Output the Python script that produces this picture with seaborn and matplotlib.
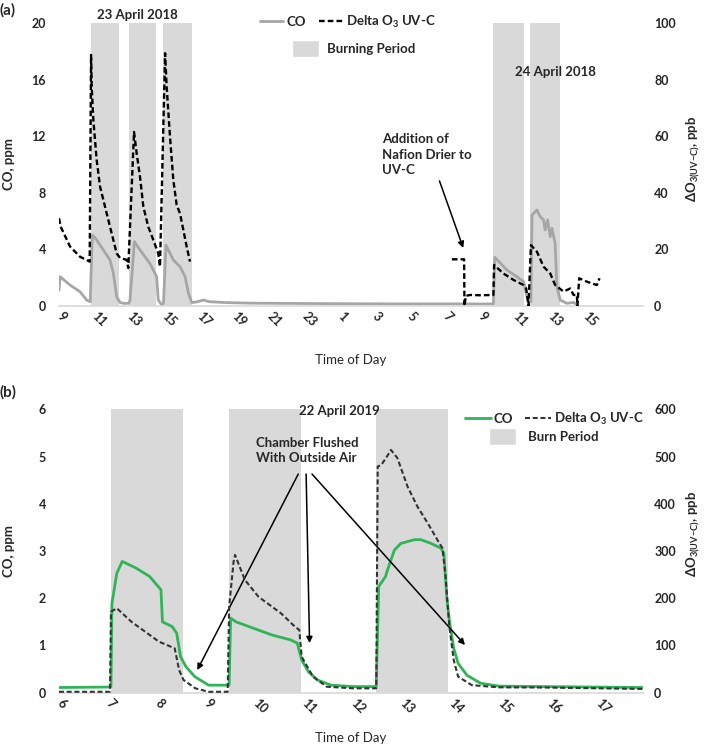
import matplotlib
matplotlib.use("Agg")
import matplotlib.pyplot as plt
import seaborn as sns
import pandas as pd
from matplotlib.lines import Line2D
from matplotlib.patches import Patch
from matplotlib.font_manager import FontProperties

# ---- panel (a): 23-24 April 2018, x = hours since midnight on 23 April ----
a_co_hours = [9.0, 9.06, 9.63, 10.20, 10.58, 10.78, 10.90, 11.00, 11.15, 11.53, 11.91, 12.10,
              12.29, 12.48, 12.67, 12.98, 13.05, 13.30, 13.43, 13.62, 14.19, 14.57, 14.66, 14.86,
              14.96, 15.10, 15.52, 15.90, 16.19, 16.38, 16.57, 16.9, 17.23, 17.6, 18.57, 20.0,
              24.0, 28.0, 31.0, 33.77, 33.85, 34.54, 35.11, 35.49, 35.64, 35.77, 35.91, 35.97,
              36.25, 36.44, 36.63, 36.72, 36.86, 37.01, 37.11, 37.29, 37.39, 37.58, 37.96, 38.34,
              38.53]
a_co_ppm = [1.1, 2.07, 1.48, 1.01, 0.42, 0.30, 5.0, 4.9, 4.66, 3.96, 3.25, 2.31,
            0.66, 0.25, 0.19, 0.19, 0.4, 4.55, 4.3, 3.96, 3.0, 2.07, 0.42, 0.07,
            0.2, 4.3, 3.25, 2.78, 2.07, 0.9, 0.24, 0.3, 0.42, 0.3, 0.24, 0.2,
            0.17, 0.15, 0.15, 0.14, 3.44, 2.54, 2.07, 1.72, 0.9, 0.3, 0.3, 6.43,
            6.78, 6.31, 6.08, 5.37, 6.08, 4.9, 5.49, 4.43, 1.36, 0.42, 0.19, 0.25,
            0.1]
a_o3_hours_day1 = [9.0, 9.1, 9.63, 10.20, 10.75, 10.83, 10.865, 10.96, 11.15, 11.34, 11.53,
                   11.91, 12.10, 12.29, 12.48, 12.86, 12.95, 13.28, 13.43, 13.62, 13.81, 14.09,
                   14.38, 14.66, 14.76, 15.05, 15.14, 15.33, 15.52, 15.71, 15.90, 16.09, 16.28,
                   16.47]
a_o3_ppb_day1 = [31, 28, 21, 17.4, 15.7, 88.7, 77.5, 65.7, 51.6, 42.2, 37.5,
                 28, 23.3, 18.6, 17, 16.3, 13.4, 61.5, 53.9, 45.7, 35.1, 28,
                 23.3, 18.6, 13.9, 89.3, 77.5, 59.8, 44.5, 35.7, 32.7, 26.9, 21,
                 15.7]
a_o3_hours_day2 = [31.40, 32.10, 32.12, 32.2, 32.45, 33.0, 33.77, 33.81, 34.34, 34.92, 35.49,
                   35.64, 35.77, 35.91, 36.25, 36.63, 37.01, 37.29, 37.77, 38.15, 38.34, 38.53,
                   38.56, 38.66, 39.10, 39.67, 39.82]
a_o3_ppb_day2 = [16.5, 16.5, 0, 3.6, 3.9, 3.8, 3.9, 14.5, 11.5, 9.2, 7.4,
                 6.2, 0, 21.5, 19.2, 13.9, 11.5, 7.4, 5.1, 6.2, 3.9, 3.9,
                 0, 9.8, 8.6, 7.4, 9.8]
a_burn_start = [10.81, 13.01, 14.92, 33.77, 35.87]
a_burn_end = [12.42, 14.55, 16.57, 35.54, 37.54]
a_tick_hours = list(range(9, 41, 2))
a_tick_labels = [str(h % 24) for h in a_tick_hours]

# ---- panel (b): 22 April 2019 ----
b_co_hours = [6.0, 7.0, 7.06, 7.08, 7.18, 7.29, 7.57, 7.85, 8.08, 8.11, 8.31, 8.40, 8.48,
              8.59, 8.77, 9.05, 9.42, 9.47, 9.50, 9.61, 9.98, 10.35, 10.72, 10.86, 10.95,
              11.09, 11.27, 11.55, 12.01, 12.47, 12.52, 12.66, 12.70, 12.84, 12.97, 13.25,
              13.38, 13.59, 13.79, 13.85, 13.91, 13.96, 14.05, 14.14, 14.32, 14.60, 14.97,
              15.90, 17.91]
b_co_ppm = [0.11, 0.12, 0.13, 1.89, 2.53, 2.78, 2.64, 2.46, 2.18, 1.50, 1.40, 1.26, 0.76,
            0.55, 0.34, 0.16, 0.16, 0.16, 1.58, 1.50, 1.36, 1.22, 1.12, 1.05, 0.69,
            0.44, 0.27, 0.16, 0.13, 0.13, 2.25, 2.46, 2.6, 3.02, 3.16, 3.24,
            3.24, 3.16, 3.06, 2.95, 2.0, 1.54, 0.94, 0.62, 0.37, 0.20, 0.14,
            0.13, 0.11]
b_o3_hours = [6.0, 7.04, 7.06, 7.18, 7.48, 7.76, 8.04, 8.36, 8.45, 8.54, 8.78, 9.05, 9.44,
              9.47, 9.56, 9.59, 9.79, 10.07, 10.53, 10.81, 10.90, 10.95, 11.18, 11.46, 12.01,
              12.47, 12.50, 12.57, 12.67, 12.77, 12.90, 13.11, 13.31, 13.52, 13.72, 13.82,
              13.88, 13.96, 14.05, 14.14, 14.42, 14.97, 15.90, 17.91]
b_o3_ppb = [2, 2, 171.6, 178.8, 150, 129, 108, 94, 48, 27, 9.3, 2, 2,
            182, 277, 291.7, 239, 203, 168, 140, 133, 76, 34, 12.7, 9.3,
            9.3, 479, 482, 497, 514, 497, 436, 394, 359, 323, 306,
            250, 140, 69, 34, 16, 11.4, 11, 8]
b_burn_start = [7.06, 9.47, 12.46]
b_burn_end = [8.53, 10.93, 13.94]
b_tick_hours = list(range(6, 18))
b_tick_labels = [str(h) for h in b_tick_hours]

sns.set_theme(style="white")
plt.rcParams['font.family'] = ['Lato', 'DejaVu Sans']
plt.rcParams['mathtext.default'] = 'regular'

FAMILY = ['Lato', 'DejaVu Sans']
BURN = '#d9d9d9'
DASH = (0, (2.4, 1.3))
bold = FontProperties(family=FAMILY, weight='bold', size=9.5)
O3_LABEL = 'ΔO$_{3(UV{-}C)}$, ppb'

fig = plt.figure(figsize=(7.08, 7.48), dpi=100)
ax_a = fig.add_axes([0.0833, 0.5909, 0.8249, 0.3784])
ax_b = fig.add_axes([0.0833, 0.0739, 0.8249, 0.3789])


def base_style(ax, ax2, xlim, ylim, yticks, ylim2, yticks2, xticks, xlabels):
    ax.set_xlim(*xlim)
    ax.set_ylim(*ylim)
    ax2.set_ylim(*ylim2)
    for s in ['top', 'left', 'right']:
        ax.spines[s].set_visible(False)
    ax.spines['bottom'].set_color('#d9d9d9')
    ax.spines['bottom'].set_linewidth(1.2)
    for s in ax2.spines.values():
        s.set_visible(False)
    ax.set_yticks(yticks, [str(t) for t in yticks], fontweight='bold', fontsize=9)
    ax2.set_yticks(yticks2, [str(t) for t in yticks2], fontweight='bold', fontsize=9)
    ax.set_xticks(xticks, xlabels, rotation=-45, ha='left', va='center',
                  rotation_mode='anchor', fontweight='bold', fontsize=9)
    ax.tick_params(axis='y', length=0, pad=9.5)
    ax.tick_params(axis='x', length=0, pad=6)
    ax2.tick_params(axis='y', length=0, pad=8)
    ax.grid(False)
    ax2.grid(False)
    ax.set_xlabel('')
    ax.set_ylabel('')
    ax2.set_ylabel('')


# ---------------- panel (a) ----------------
ax_a2 = ax_a.twinx()
for s, e in zip(a_burn_start, a_burn_end):
    ax_a.axvspan(s, e, color=BURN, lw=0, zorder=0)

df_a_co = pd.DataFrame({'hour': a_co_hours, 'co': a_co_ppm})
sns.lineplot(data=df_a_co, x='hour', y='co', ax=ax_a, color='#a6a6a6', lw=2,
             sort=False, estimator=None)
df_a_o3 = pd.concat([
    pd.DataFrame({'hour': a_o3_hours_day1, 'o3': a_o3_ppb_day1, 'day': 1}),
    pd.DataFrame({'hour': a_o3_hours_day2, 'o3': a_o3_ppb_day2, 'day': 2}),
])
sns.lineplot(data=df_a_o3, x='hour', y='o3', units='day', estimator=None, sort=False,
             ax=ax_a2, color='black', lw=1.7, linestyle=DASH)

base_style(ax_a, ax_a2, (9, 42.3), (0, 20), [0, 4, 8, 12, 16, 20], (0, 100),
           [0, 20, 40, 60, 80, 100], a_tick_hours, a_tick_labels)

ax_a.set_ylabel('CO, ppm', fontweight='bold', fontsize=9.5)
ax_a.yaxis.set_label_coords(-0.075, 0.5)
ax_a2.set_ylabel(O3_LABEL, fontweight='bold', fontsize=9.5, rotation=90)
ax_a2.yaxis.set_label_coords(1.072, 0.52)
ax_a.set_xlabel('Time of Day', fontsize=9.5)
ax_a.xaxis.set_label_coords(0.5, -0.17)

ax_a.text(13.45, 20.57, '23 April 2018', ha='center', va='center', fontweight='bold',
          fontsize=9.5, clip_on=False)
ax_a.text(37.29, 16.54, '24 April 2018', ha='center', va='center', fontweight='bold',
          fontsize=9.5)
ax_a.annotate('Addition of\nNafion Drier to\nUV-C', xy=(32.05, 4.1), xytext=(27.43, 12.2),
              ha='left', va='top', fontweight='bold', fontsize=9.5, linespacing=1.35,
              arrowprops=dict(arrowstyle='-|>', color='black', lw=1.1, shrinkA=1, shrinkB=0,
                              mutation_scale=9, relpos=(0.62, 0.0)))

leg1 = ax_a2.legend(handles=[Line2D([], [], color='#a6a6a6', lw=2, label='CO'),
                             Line2D([], [], color='black', lw=1.7, ls=DASH,
                                    label='Delta O$_3$ UV-C')],
                    ncol=2, loc='upper left', bbox_to_anchor=(253 / 708, 1 - 7 / 748),
                    bbox_transform=fig.transFigure, frameon=False, borderpad=0,
                    handlelength=1.8, handletextpad=0.25, columnspacing=1.0, prop=bold)
ax_a2.add_artist(leg1)
ax_a2.legend(handles=[Patch(facecolor=BURN, label='Burning Period')], loc='upper left',
             bbox_to_anchor=(285 / 708, 1 - 33 / 748), bbox_transform=fig.transFigure,
             frameon=False, borderpad=0, handlelength=2.1, handleheight=1.7,
             handletextpad=0.6, prop=bold)

# ---------------- panel (b) ----------------
ax_b2 = ax_b.twinx()
for s, e in zip(b_burn_start, b_burn_end):
    ax_b.axvspan(s, e, color=BURN, lw=0, zorder=0)

df_b_co = pd.DataFrame({'hour': b_co_hours, 'co': b_co_ppm})
sns.lineplot(data=df_b_co, x='hour', y='co', ax=ax_b, color='#2fb457', lw=2,
             sort=False, estimator=None)
df_b_o3 = pd.DataFrame({'hour': b_o3_hours, 'o3': b_o3_ppb})
sns.lineplot(data=df_b_o3, x='hour', y='o3', ax=ax_b2, color='#333333', lw=1.5,
             linestyle=DASH, sort=False, estimator=None)

base_style(ax_b, ax_b2, (6, 17.91), (0, 6), [0, 1, 2, 3, 4, 5, 6], (0, 600),
           [0, 100, 200, 300, 400, 500, 600], b_tick_hours, b_tick_labels)

ax_b.set_ylabel('CO, ppm', fontweight='bold', fontsize=9.5)
ax_b.yaxis.set_label_coords(-0.075, 0.5)
ax_b2.set_ylabel(O3_LABEL, fontweight='bold', fontsize=9.5, rotation=90)
ax_b2.yaxis.set_label_coords(1.072, 0.56)
ax_b.set_xlabel('Time of Day', fontsize=9.5)
ax_b.xaxis.set_label_coords(0.5, -0.138)

ax_b.text(10.90, 5.97, '22 April 2019', ha='left', va='center', fontweight='bold',
          fontsize=9.5)
ax_b.text(10.02, 5.42, 'Chamber Flushed\nWith Outside Air', ha='left', va='top',
          fontweight='bold', fontsize=9.5, linespacing=1.3)
arrow_starts = [(10.88, 4.63), (11.04, 4.63), (11.16, 4.63)]
arrow_ends = [(8.82, 0.48), (11.11, 1.05), (14.28, 1.01)]
for st, en in zip(arrow_starts, arrow_ends):
    ax_b.annotate('', xy=en, xytext=st,
                  arrowprops=dict(arrowstyle='-|>', color='black', lw=1.1, shrinkA=0,
                                  shrinkB=0, mutation_scale=9))

leg3 = ax_b2.legend(handles=[Line2D([], [], color='#2fb457', lw=2, label='CO'),
                             Line2D([], [], color='#333333', lw=1.5, ls=DASH,
                                    label='Delta O$_3$ UV-C')],
                    ncol=2, loc='upper left', bbox_to_anchor=(458 / 708, 1 - 404 / 748),
                    bbox_transform=fig.transFigure, frameon=False, borderpad=0,
                    handlelength=2.0, handletextpad=0.2, columnspacing=0.9, prop=bold)
ax_b2.add_artist(leg3)
ax_b2.legend(handles=[Patch(facecolor=BURN, label='Burn Period')], loc='upper left',
             bbox_to_anchor=(482 / 708, 1 - 421 / 748), bbox_transform=fig.transFigure,
             frameon=False, borderpad=0, handlelength=2.1, handleheight=1.7,
             handletextpad=0.9, prop=bold)

fig.text(0.0, 1 - 10 / 748, '(a)', fontweight='bold', fontsize=11, va='center')
fig.text(0.0, 1 - 392 / 748, '(b)', fontweight='bold', fontsize=11, va='center')

fig.savefig('out.png', dpi=100)
